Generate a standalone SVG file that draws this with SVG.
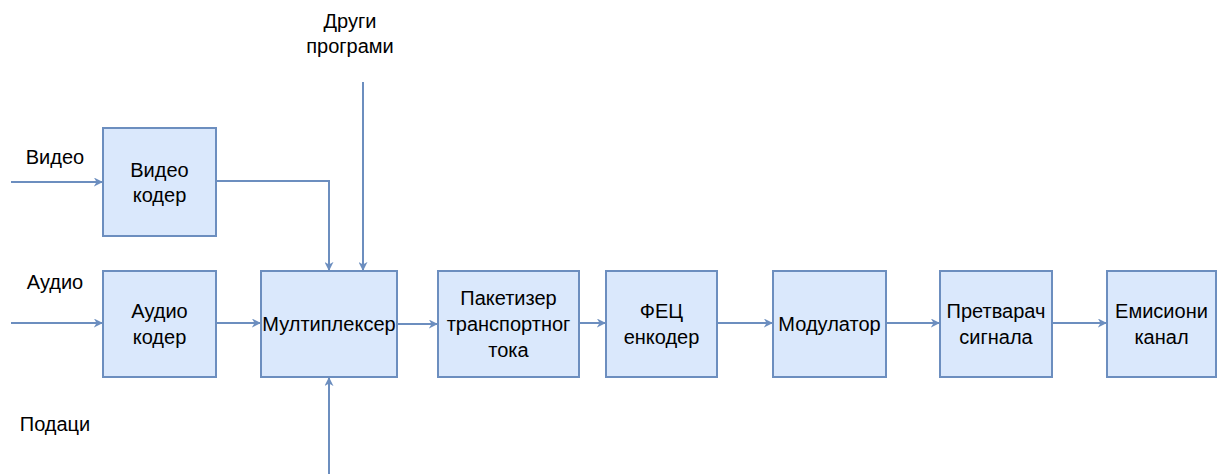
<svg xmlns="http://www.w3.org/2000/svg" width="1218" height="474" viewBox="0 0 1218 474">
  <style>
    .box { fill: #dae8fc; stroke: #6c8ebf; stroke-width: 2; }
    .lbl { font-family: "Liberation Sans", Arial, sans-serif; font-size: 20px; fill: #000; text-anchor: middle; }
    .edge { fill: none; stroke: #6c8ebf; stroke-width: 2; }
  </style>
  <defs>
    <marker id="arrow" viewBox="0 0 10 10" refX="9" refY="5" markerWidth="9" markerHeight="9" markerUnits="userSpaceOnUse" orient="auto">
      <path d="M0,0 L10,5 L0,10 L3,5 Z" fill="#6c8ebf"/>
    </marker>
  </defs>
  <rect width="1218" height="474" fill="#fff"/>

  <g id="connectors" class="edge" marker-end="url(#arrow)">
    <path d="M11,182 H102"/>
    <path d="M11,323 H102"/>
    <path d="M216,181 H329 V270"/>
    <path d="M363,82 V270"/>
    <path d="M329,474 V378"/>
    <path d="M216,323 H260"/>
    <path d="M397,324 H437"/>
    <path d="M579,323 H605"/>
    <path d="M717,323 H772"/>
    <path d="M886,323 H939"/>
    <path d="M1052,323 H1106"/>
  </g>

  <g id="label-video">
    <text class="lbl" x="55" y="164">Видео</text>
  </g>
  <g id="label-audio">
    <text class="lbl" x="55" y="289">Аудио</text>
  </g>
  <g id="label-data">
    <text class="lbl" x="55" y="431">Подаци</text>
  </g>
  <g id="label-other">
    <text class="lbl" x="350" y="28">Други</text>
    <text class="lbl" x="350" y="53">програми</text>
  </g>

  <g id="video-coder">
    <rect class="box" x="103" y="128" width="113" height="108"/>
    <text class="lbl" x="159.5" y="177">Видео</text>
    <text class="lbl" x="159.5" y="202">кодер</text>
  </g>
  <g id="audio-coder">
    <rect class="box" x="103" y="271" width="113" height="106"/>
    <text class="lbl" x="159.5" y="318">Аудио</text>
    <text class="lbl" x="159.5" y="344">кодер</text>
  </g>
  <g id="multiplexer">
    <rect class="box" x="261" y="271" width="136" height="106"/>
    <text class="lbl" x="329" y="331">Мултиплексер</text>
  </g>
  <g id="packetizer">
    <rect class="box" x="438" y="271" width="141" height="106"/>
    <text class="lbl" x="508.5" y="305">Пакетизер</text>
    <text class="lbl" x="508.5" y="331">транспортног</text>
    <text class="lbl" x="508.5" y="357">тока</text>
  </g>
  <g id="fec-encoder">
    <rect class="box" x="606" y="271" width="111" height="106"/>
    <text class="lbl" x="661.5" y="318">ФЕЦ</text>
    <text class="lbl" x="661.5" y="344">енкодер</text>
  </g>
  <g id="modulator">
    <rect class="box" x="773" y="271" width="113" height="106"/>
    <text class="lbl" x="829.5" y="331">Модулатор</text>
  </g>
  <g id="converter">
    <rect class="box" x="940" y="271" width="112" height="106"/>
    <text class="lbl" x="996" y="318">Претварач</text>
    <text class="lbl" x="996" y="344">сигнала</text>
  </g>
  <g id="channel">
    <rect class="box" x="1107" y="271" width="109" height="106"/>
    <text class="lbl" x="1161.5" y="318">Емисиони</text>
    <text class="lbl" x="1161.5" y="344">канал</text>
  </g>
</svg>
